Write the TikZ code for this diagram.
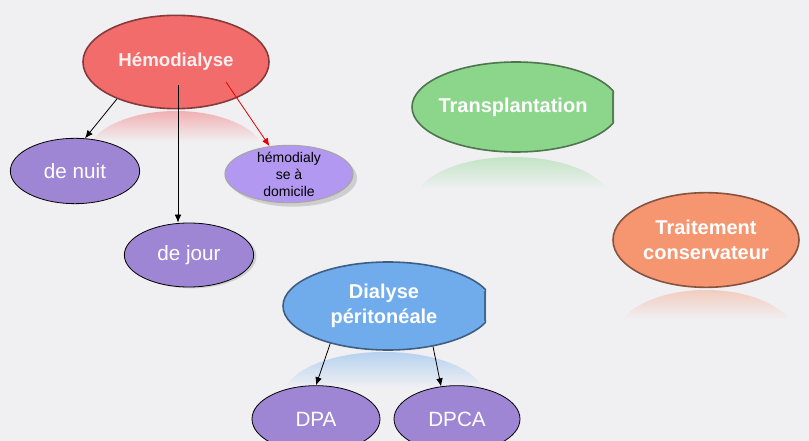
\documentclass[tikz,border=0pt]{standalone}
\usepackage{fontspec}
\setmainfont{Liberation Sans}
\usetikzlibrary{shapes.geometric,arrows.meta,shadows}
\definecolor{fondcol}{RGB}{240,240,243}
\definecolor{hemocol}{RGB}{243,108,108}
\definecolor{transcol}{RGB}{140,214,140}
\definecolor{traitcol}{RGB}{246,150,112}
\definecolor{dialcol}{RGB}{112,172,236}
\definecolor{violcol}{RGB}{158,134,212}
\definecolor{domcol}{RGB}{178,152,240}

\tikzset{
  bulle/.style={ellipse, fill=#1, draw=#1!55!black, line width=1.2pt, inner sep=0pt},
  feuille/.style={ellipse, fill=violcol, draw=black, line width=0.6pt, inner sep=0pt},
  titre/.style={text=white, font=\bfseries\fontsize{15}{18.75}\selectfont, align=center},
  mot/.style={text=white, font=\fontsize{15.5}{18}\selectfont},
  fleche/.style={-{Latex[length=6pt,width=5pt]}, line width=0.6pt}
}

\begin{document}
\begin{tikzpicture}[x=0.75pt,y=0.75pt,yscale=-1,xscale=1]
        %background
        \fill [fondcol] (0,0) rectangle (809,441);
        \useasboundingbox (0,0) rectangle (809,441);

        %Reflections
        \begin{scope}
          \clip (176,157) ellipse (90 and 46);
          \shade [top color=hemocol!50!fondcol, bottom color=fondcol] (80,110) rectangle (270,142);
        \end{scope}
        \begin{scope}
          \clip (513,202) ellipse (98 and 45);
          \shade [top color=transcol!45!fondcol, bottom color=fondcol] (410,157) rectangle (615,190);
        \end{scope}
        \begin{scope}
          \clip (706,337) ellipse (90 and 47);
          \shade [top color=traitcol!40!fondcol, bottom color=fondcol] (610,290) rectangle (800,320);
        \end{scope}
        \begin{scope}
          \clip (384,396) ellipse (100 and 44);
          \shade [top color=dialcol!45!fondcol, bottom color=fondcol] (280,352) rectangle (488,388);
        \end{scope}

        %Shape: Ellipses
        \node [bulle=hemocol, minimum width=139.5pt, minimum height=70pt] (hemo) at (176,62) {};
        \begin{scope}
          \clip (0,0) rectangle (614,441);
          \node [bulle=transcol, minimum width=156pt, minimum height=67.5pt] (trans) at (516,107) {};
        \end{scope}
        \draw [transcol!60!black, line width=2.2pt] (613,92) -- (613,122);
        \node [bulle=traitcol, minimum width=139.5pt, minimum height=71pt] (trait) at (706,240) {};
        \begin{scope}
          \clip (0,0) rectangle (486,441);
          \node [bulle=dialcol, minimum width=157.5pt, minimum height=66pt] (dial) at (388,306) {};
        \end{scope}
        \draw [dialcol!60!black, line width=2.2pt] (485,291) -- (485,321);
        \node [feuille, minimum width=97pt, minimum height=49pt] (nuit) at (75,171) {};
        \node [feuille, minimum width=97pt, minimum height=48pt, drop shadow={opacity=0.3, shadow xshift=2pt, shadow yshift=-1pt}] (jour) at (189,255) {};
        \node [ellipse, fill=domcol, draw=gray!70, line width=0.8pt, inner sep=0pt, minimum width=96pt, minimum height=43pt, drop shadow={opacity=0.3, shadow xshift=3pt, shadow yshift=-3pt}] (dom) at (289,174) {};
        \node [feuille, minimum width=96pt, minimum height=50pt] (dpa) at (316,419) {};
        \node [feuille, minimum width=94.5pt, minimum height=50pt] (dpca) at (457,419) {};

        % Text Node
        \node [titre, text=white!90!hemocol, font=\bfseries\fontsize{14}{17}\selectfont] at (hemo) {Hémodialyse};
        % Text Node
        \node [titre] at (513,107) {Transplantation};
        % Text Node
        \node [titre] at (trait) {Traitement\\conservateur};
        % Text Node
        \node [titre] at (384,306) {Dialyse\\péritonéale};
        % Text Node
        \node [mot] at (nuit) {de nuit};
        % Text Node
        \node [mot] at (jour) {de jour};
        % Text Node
        \node [font=\fontsize{10.5}{12.75}\selectfont, align=center] at (dom) {hémodialy\\se à\\domicile};
        % Text Node
        \node [mot] at (dpa) {DPA};
        % Text Node
        \node [mot] at (dpca) {DPCA};

        %Straight Lines
        \draw [fleche] (hemo.212) -- (nuit.73);
        \coordinate (haut) at ([xshift=1.5pt,yshift=17pt]hemo.center);
        \draw [fleche] (haut) -- (haut |- jour.north);
        \coordinate (rouge) at ([xshift=37.5pt,yshift=15pt]hemo.center);
        \draw [fleche, color=red!90!black] (rouge) -- (dom.125);
        \draw [fleche] (dial.213) -- (dpa.north);
        \draw [fleche] (dial.318) -- (dpca.116);

\end{tikzpicture}
\end{document}
